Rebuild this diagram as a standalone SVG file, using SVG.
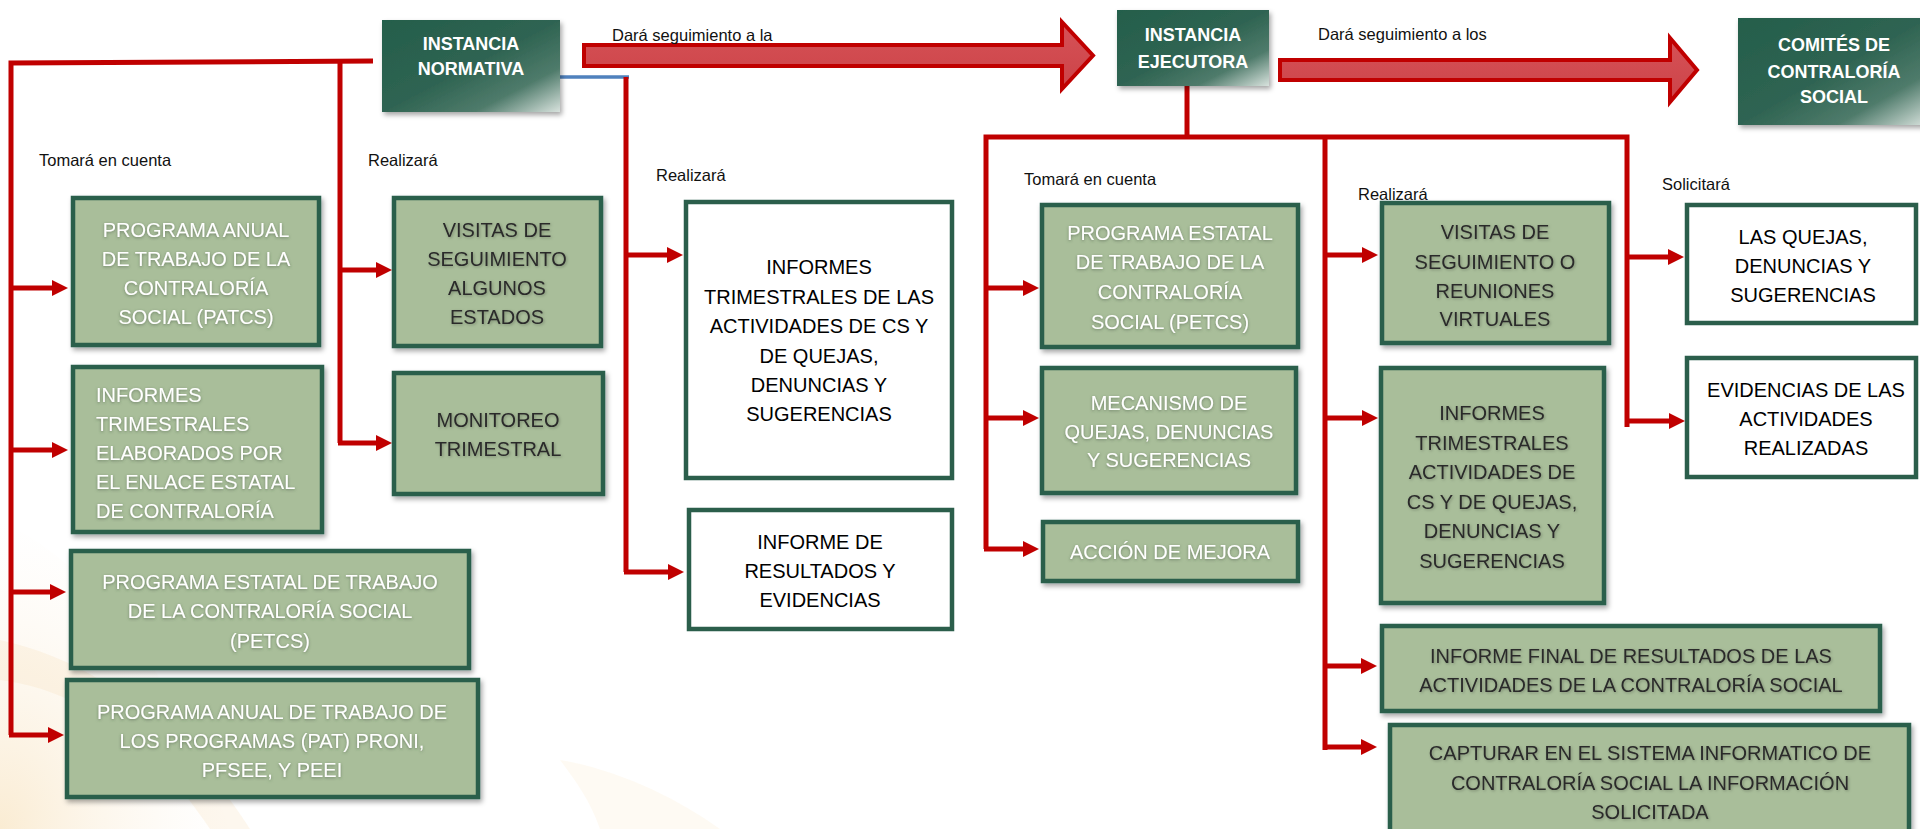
<svg xmlns="http://www.w3.org/2000/svg" width="1920" height="829" viewBox="0 0 1920 829">
<style>
.box{fill:#a9be9a;stroke:#2b5e4b;stroke-width:4.5;filter:url(#sh)}
.wbox{fill:#ffffff;stroke:#2b5e4b;stroke-width:4.5}
.top{fill:url(#tg);filter:url(#sh)}
.t{font-family:"Liberation Sans",Arial,sans-serif;font-size:20px;text-anchor:middle}
.tl{font-family:"Liberation Sans",Arial,sans-serif;font-size:20px;text-anchor:start}
.w{fill:#ffffff;filter:url(#tsw)}
.d{fill:#2a2a2a;filter:url(#tsd)}
.k{fill:#000000}
.h{font-family:"Liberation Sans",Arial,sans-serif;font-size:18px;font-weight:bold;fill:#ffffff;text-anchor:middle}
.lbl{font-family:"Liberation Sans",Arial,sans-serif;font-size:16.5px;fill:#111111}
.ln{fill:none;stroke:#c00000;stroke-width:5}
.ar{fill:none;stroke:#c00000;stroke-width:5;marker-end:url(#ah)}
.big{fill:url(#ag);stroke:#c00000;stroke-width:4;stroke-linejoin:miter}
</style>
<defs>
<linearGradient id="tg" x1="0" y1="0" x2="1" y2="1">
<stop offset="0" stop-color="#245e4b"/>
<stop offset="0.5" stop-color="#2f6452"/>
<stop offset="0.76" stop-color="#4f7b6b"/>
<stop offset="1" stop-color="#d8e2dd"/>
</linearGradient>
<linearGradient id="ag" x1="0" y1="0" x2="0" y2="1">
<stop offset="0" stop-color="#d65257"/>
<stop offset="1" stop-color="#cc4348"/>
</linearGradient>
<radialGradient id="bg1" cx="0" cy="1" r="1">
<stop offset="0" stop-color="#f6dcae" stop-opacity="0.55"/>
<stop offset="1" stop-color="#fbeedb" stop-opacity="0"/>
</radialGradient>
<filter id="sh" x="-10%" y="-10%" width="125%" height="130%">
<feDropShadow dx="2" dy="3" stdDeviation="2.5" flood-color="#000000" flood-opacity="0.35"/>
</filter>
<filter id="tsw" x="-5%" y="-30%" width="110%" height="160%">
<feDropShadow dx="0" dy="1" stdDeviation="1.6" flood-color="#3b4b3b" flood-opacity="0.55"/>
</filter>
<filter id="tsd" x="-5%" y="-30%" width="110%" height="160%">
<feDropShadow dx="1" dy="1" stdDeviation="1.5" flood-color="#000000" flood-opacity="0.28"/>
</filter>
<marker id="ah" markerUnits="userSpaceOnUse" markerWidth="20" markerHeight="20" refX="2" refY="8" orient="auto">
<path d="M0,0 L16,8 L0,16 z" fill="#c00000"/>
</marker>
</defs>

<g id="background">
<path d="M0,520 C80,560 160,640 230,829 L0,829 Z" fill="url(#bg1)"/>
<path d="M0,640 C90,660 180,720 250,829 L210,829 C150,740 80,690 0,680 Z" fill="#f3d3a0" opacity="0.18"/>
<path d="M560,760 C620,770 680,800 720,829 L600,829 C590,800 575,780 560,760 Z" fill="#f3d3a0" opacity="0.12"/>
</g>

<g id="connectors">
<path class="ln" d="M373,61 L11,63 L11,735"/>
<path class="ar" d="M11,288 H54"/>
<path class="ar" d="M11,450 H54"/>
<path class="ar" d="M11,592 H52"/>
<path class="ar" d="M9,735 H50"/>
<path class="ln" d="M340,61 V443"/>
<path class="ar" d="M340,270 H378"/>
<path class="ar" d="M338,443 H378"/>
<path d="M560,77 H629" fill="none" stroke="#4f81bd" stroke-width="3.5"/>
<path class="ln" d="M626,77 V572"/>
<path class="ar" d="M626,255 H669"/>
<path class="ar" d="M624,572 H670"/>
<path class="big" d="M584,45 H1062 V22 L1093,55.5 L1062,89 V66 H584 Z"/>
<path class="big" d="M1280,60 H1670 V38 L1697,70 L1670,102 V80 H1280 Z"/>
<path class="ln" d="M1187,86 V137"/>
<path class="ln" d="M986,549 V137 H1627 V427"/>
<path class="ar" d="M986,288 H1025"/>
<path class="ar" d="M986,418 H1025"/>
<path class="ar" d="M984,549 H1025"/>
<path class="ln" d="M1325,137 V750"/>
<path class="ar" d="M1325,255 H1364"/>
<path class="ar" d="M1325,418 H1364"/>
<path class="ar" d="M1325,666 H1363"/>
<path class="ar" d="M1323,747 H1363"/>
<path class="ar" d="M1627,257 H1670"/>
<path class="ar" d="M1627,421 H1671"/>
</g>

<g id="labels">
<text class="lbl" x="612" y="41">Dará seguimiento a la</text>
<text class="lbl" x="1318" y="40">Dará seguimiento a los</text>
<text class="lbl" x="39" y="166">Tomará en cuenta</text>
<text class="lbl" x="368" y="166">Realizará</text>
<text class="lbl" x="656" y="181">Realizará</text>
<text class="lbl" x="1024" y="185">Tomará en cuenta</text>
<text class="lbl" x="1358" y="200">Realizará</text>
<text class="lbl" x="1662" y="190">Solicitará</text>
</g>

<g id="instancia-normativa">
<rect class="top" x="382" y="20" width="178" height="92"/>
<text class="h"><tspan x="471" y="50">INSTANCIA</tspan><tspan x="471" y="75">NORMATIVA</tspan></text>
</g>
<g id="instancia-ejecutora">
<rect class="top" x="1117" y="10" width="152" height="76"/>
<text class="h"><tspan x="1193" y="41">INSTANCIA</tspan><tspan x="1193" y="68">EJECUTORA</tspan></text>
</g>
<g id="comites">
<rect class="top" x="1738" y="18" width="190" height="107"/>
<text class="h"><tspan x="1834" y="51">COMITÉS DE</tspan><tspan x="1834" y="78">CONTRALORÍA</tspan><tspan x="1834" y="103">SOCIAL</tspan></text>
</g>

<g id="patcs">
<rect class="box" x="73" y="198" width="246" height="147"/>
<text class="t w"><tspan x="196" y="237">PROGRAMA ANUAL</tspan><tspan x="196" y="266">DE TRABAJO DE LA</tspan><tspan x="196" y="295">CONTRALORÍA</tspan><tspan x="196" y="324">SOCIAL (PATCS)</tspan></text>
</g>
<g id="informes-enlace">
<rect class="box" x="73" y="367" width="249" height="165"/>
<text class="tl w"><tspan x="96" y="402">INFORMES</tspan><tspan x="96" y="431">TRIMESTRALES</tspan><tspan x="96" y="460">ELABORADOS POR</tspan><tspan x="96" y="489">EL ENLACE ESTATAL</tspan><tspan x="96" y="518">DE CONTRALORÍA</tspan></text>
</g>
<g id="petcs-left">
<rect class="box" x="71" y="551" width="398" height="117"/>
<text class="t w"><tspan x="270" y="589">PROGRAMA ESTATAL DE TRABAJO</tspan><tspan x="270" y="618">DE LA CONTRALORÍA SOCIAL</tspan><tspan x="270" y="648">(PETCS)</tspan></text>
</g>
<g id="pat">
<rect class="box" x="67" y="680" width="411" height="117"/>
<text class="t w"><tspan x="272" y="719">PROGRAMA ANUAL DE TRABAJO DE</tspan><tspan x="272" y="748">LOS PROGRAMAS (PAT) PRONI,</tspan><tspan x="272" y="777">PFSEE, Y PEEI</tspan></text>
</g>
<g id="visitas-left">
<rect class="box" x="394" y="198" width="207" height="148"/>
<text class="t d"><tspan x="497" y="237">VISITAS DE</tspan><tspan x="497" y="266">SEGUIMIENTO</tspan><tspan x="497" y="295">ALGUNOS</tspan><tspan x="497" y="324">ESTADOS</tspan></text>
</g>
<g id="monitoreo">
<rect class="box" x="394" y="373" width="209" height="121"/>
<text class="t d"><tspan x="498" y="427">MONITOREO</tspan><tspan x="498" y="456">TRIMESTRAL</tspan></text>
</g>
<g id="informes-trimestrales">
<rect class="wbox" x="686" y="202" width="266" height="276"/>
<text class="t k"><tspan x="819" y="274">INFORMES</tspan><tspan x="819" y="304">TRIMESTRALES DE LAS</tspan><tspan x="819" y="333">ACTIVIDADES DE CS Y</tspan><tspan x="819" y="363">DE QUEJAS,</tspan><tspan x="819" y="392">DENUNCIAS Y</tspan><tspan x="819" y="421">SUGERENCIAS</tspan></text>
</g>
<g id="informe-resultados">
<rect class="wbox" x="689" y="510" width="263" height="119"/>
<text class="t k"><tspan x="820" y="549">INFORME DE</tspan><tspan x="820" y="578">RESULTADOS Y</tspan><tspan x="820" y="607">EVIDENCIAS</tspan></text>
</g>

<g id="petcs-right">
<rect class="box" x="1042" y="205" width="256" height="142"/>
<text class="t w"><tspan x="1170" y="240">PROGRAMA ESTATAL</tspan><tspan x="1170" y="269">DE TRABAJO DE LA</tspan><tspan x="1170" y="299">CONTRALORÍA</tspan><tspan x="1170" y="329">SOCIAL (PETCS)</tspan></text>
</g>
<g id="mecanismo">
<rect class="box" x="1042" y="368" width="254" height="125"/>
<text class="t w"><tspan x="1169" y="410">MECANISMO DE</tspan><tspan x="1169" y="439">QUEJAS, DENUNCIAS</tspan><tspan x="1169" y="467">Y SUGERENCIAS</tspan></text>
</g>
<g id="accion">
<rect class="box" x="1043" y="522" width="255" height="59"/>
<text class="t w" x="1170" y="559">ACCIÓN DE MEJORA</text>
</g>
<g id="visitas-right">
<rect class="box" x="1382" y="203" width="227" height="140"/>
<text class="t d"><tspan x="1495" y="239">VISITAS DE</tspan><tspan x="1495" y="269">SEGUIMIENTO O</tspan><tspan x="1495" y="298">REUNIONES</tspan><tspan x="1495" y="326">VIRTUALES</tspan></text>
</g>
<g id="informes-right">
<rect class="box" x="1381" y="368" width="223" height="235"/>
<text class="t d"><tspan x="1492" y="420">INFORMES</tspan><tspan x="1492" y="450">TRIMESTRALES</tspan><tspan x="1492" y="479">ACTIVIDADES DE</tspan><tspan x="1492" y="509">CS Y DE QUEJAS,</tspan><tspan x="1492" y="538">DENUNCIAS Y</tspan><tspan x="1492" y="568">SUGERENCIAS</tspan></text>
</g>
<g id="informe-final">
<rect class="box" x="1382" y="626" width="498" height="85"/>
<text class="t d"><tspan x="1631" y="663">INFORME FINAL DE RESULTADOS DE LAS</tspan><tspan x="1631" y="692">ACTIVIDADES DE LA CONTRALORÍA SOCIAL</tspan></text>
</g>
<g id="capturar">
<rect class="box" x="1390" y="725" width="519" height="115"/>
<text class="t d"><tspan x="1650" y="760">CAPTURAR EN EL SISTEMA INFORMATICO DE</tspan><tspan x="1650" y="790">CONTRALORÍA SOCIAL LA INFORMACIÓN</tspan><tspan x="1650" y="819">SOLICITADA</tspan></text>
</g>
<g id="quejas">
<rect class="wbox" x="1687" y="205" width="229" height="118"/>
<text class="t k"><tspan x="1803" y="244">LAS QUEJAS,</tspan><tspan x="1803" y="273">DENUNCIAS Y</tspan><tspan x="1803" y="302">SUGERENCIAS</tspan></text>
</g>
<g id="evidencias">
<rect class="wbox" x="1687" y="358" width="229" height="119"/>
<text class="t k"><tspan x="1806" y="397">EVIDENCIAS DE LAS</tspan><tspan x="1806" y="426">ACTIVIDADES</tspan><tspan x="1806" y="455">REALIZADAS</tspan></text>
</g>
</svg>
